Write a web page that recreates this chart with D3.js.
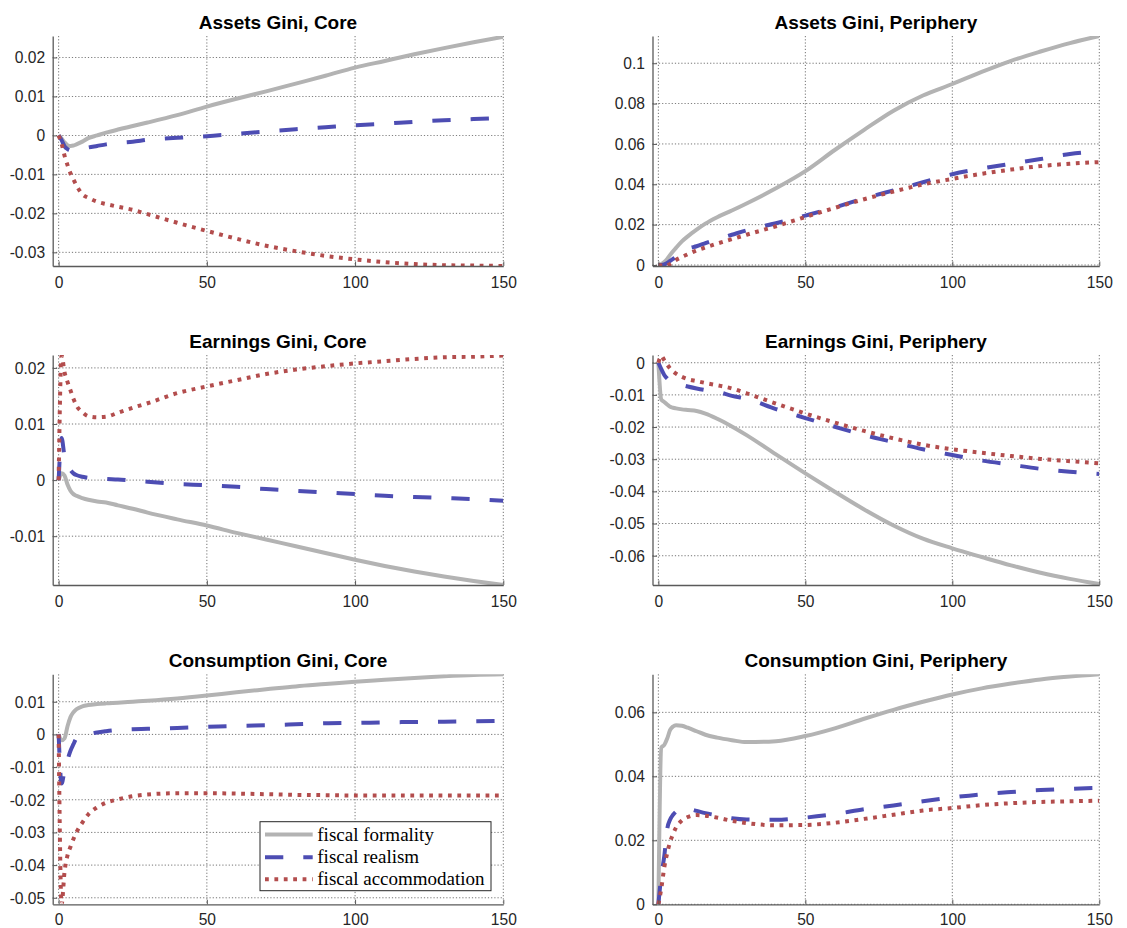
<!DOCTYPE html>
<html>
<head>
<meta charset="utf-8">
<script src="https://cdn.jsdelivr.net/npm/d3@7"></script>
<style>
  body { margin: 0; background: #ffffff; }
  svg { display: block; }
</style>
</head>
<body>
<svg id="chart" width="1127" height="928"></svg>
<script>
// ---------------- DATA ----------------
const periods = [0, 1, 2, 3, 4, 5, 6, 8, 10, 13, 16, 20, 25, 30, 40, 50, 60, 70, 80, 90, 100, 110, 120, 130, 140, 150];

const seriesNames = ["fiscal formality", "fiscal realism", "fiscal accommodation"];

const panelTitles = [
  "Assets Gini, Core", "Assets Gini, Periphery",
  "Earnings Gini, Core", "Earnings Gini, Periphery",
  "Consumption Gini, Core", "Consumption Gini, Periphery"
];

const xTickValues = [0, 50, 100, 150];
const xLimits = [-2, 150];

const yTicksAssetsCore = [-0.03, -0.02, -0.01, 0, 0.01, 0.02];
const yTicksAssetsPeri = [0, 0.02, 0.04, 0.06, 0.08, 0.1];
const yTicksEarningsCore = [-0.01, 0, 0.01, 0.02];
const yTicksEarningsPeri = [-0.06, -0.05, -0.04, -0.03, -0.02, -0.01, 0];
const yTicksConsCore = [-0.05, -0.04, -0.03, -0.02, -0.01, 0, 0.01];
const yTicksConsPeri = [0, 0.02, 0.04, 0.06];

const yLimitsAssetsCore = [-0.0335, 0.0255];
const yLimitsAssetsPeri = [-0.0005, 0.1135];
const yLimitsEarningsCore = [-0.0187, 0.0223];
const yLimitsEarningsPeri = [-0.0691, 0.0024];
const yLimitsConsCore = [-0.052, 0.0184];
const yLimitsConsPeri = [0, 0.0719];

// Assets Gini, Core
const assetsCoreFormality = [0, -0.0008, -0.0018, -0.0025, -0.0027, -0.0026, -0.0023, -0.0016, -0.0007, 0, 0.0007, 0.0015, 0.0024, 0.0033, 0.0052, 0.0074, 0.0094, 0.0113, 0.0133, 0.0153, 0.0174, 0.0191, 0.0208, 0.0224, 0.0239, 0.0253];
const assetsCoreRealism = [0, -0.0012, -0.0028, -0.0035, -0.0038, -0.0038, -0.0037, -0.0034, -0.0031, -0.0027, -0.0023, -0.0019, -0.0016, -0.0011, -0.0006, -0.0002, 0.0004, 0.001, 0.0016, 0.0021, 0.0026, 0.003, 0.0035, 0.0039, 0.0042, 0.0045];
const assetsCoreAccommodation = [0, -0.0021, -0.0052, -0.0076, -0.0097, -0.0113, -0.0128, -0.0151, -0.016, -0.017, -0.0176, -0.0183, -0.0191, -0.0202, -0.0224, -0.0245, -0.0265, -0.0283, -0.0297, -0.0309, -0.0318, -0.0325, -0.033, -0.0333, -0.0334, -0.0335];

// Assets Gini, Periphery
const assetsPeriFormality = [0, 0.0005, 0.0015, 0.003, 0.005, 0.0068, 0.0085, 0.0117, 0.0142, 0.0175, 0.0205, 0.0237, 0.027, 0.0305, 0.038, 0.0465, 0.057, 0.067, 0.0765, 0.084, 0.0897, 0.0957, 0.1012, 0.1058, 0.11, 0.1135];
const assetsPeriRealism = [0, 0, 0.0003, 0.001, 0.002, 0.003, 0.004, 0.0063, 0.008, 0.0093, 0.0108, 0.0128, 0.015, 0.0172, 0.0207, 0.0245, 0.0285, 0.033, 0.037, 0.041, 0.045, 0.0478, 0.0502, 0.0525, 0.055, 0.0563];
const assetsPeriAccommodation = [0, -0.0003, -0.0005, -0.0003, 0.0005, 0.0015, 0.0025, 0.004, 0.0053, 0.0072, 0.0087, 0.0106, 0.0128, 0.015, 0.0192, 0.0238, 0.0283, 0.0326, 0.0364, 0.0399, 0.0427, 0.0452, 0.0473, 0.049, 0.0502, 0.051];

// Earnings Gini, Core
const earningsCoreFormality = [0, 0.0012, 0.0008, -0.0008, -0.0019, -0.0025, -0.0028, -0.0032, -0.0035, -0.0038, -0.004, -0.0045, -0.0051, -0.0058, -0.007, -0.0081, -0.0094, -0.0106, -0.0118, -0.013, -0.0142, -0.0153, -0.0163, -0.0172, -0.018, -0.0187];
const earningsCoreRealism = [0, 0.0075, 0.0042, 0.0028, 0.0018, 0.0012, 0.0009, 0.0006, 0.0004, 0.0003, 0.0002, 0.0001, -0.0001, -0.0003, -0.0007, -0.0009, -0.0012, -0.0016, -0.0019, -0.0022, -0.0025, -0.0028, -0.003, -0.0032, -0.0034, -0.0037];
const earningsCoreAccommodation = [0, 0.0222, 0.0192, 0.0175, 0.016, 0.0145, 0.0133, 0.0121, 0.0114, 0.0112, 0.0113, 0.012, 0.0129, 0.0137, 0.0155, 0.0167, 0.0178, 0.0189, 0.0197, 0.0203, 0.0208, 0.0212, 0.0216, 0.0219, 0.022, 0.0222];

// Earnings Gini, Periphery
const earningsPeriFormality = [0, -0.0115, -0.0122, -0.013, -0.0137, -0.014, -0.0142, -0.0145, -0.0147, -0.015, -0.0158, -0.0174, -0.0198, -0.0225, -0.0285, -0.0344, -0.0401, -0.0456, -0.0506, -0.0547, -0.0577, -0.0604, -0.063, -0.0653, -0.0672, -0.0688];
const earningsPeriRealism = [0, -0.002, -0.0038, -0.0049, -0.0056, -0.006, -0.0063, -0.0069, -0.0074, -0.008, -0.0085, -0.009, -0.0103, -0.0112, -0.0144, -0.0172, -0.0199, -0.0225, -0.0247, -0.0269, -0.0287, -0.0304, -0.0317, -0.033, -0.0339, -0.0346];
const earningsPeriAccommodation = [0, 0.0021, 0.0008, -0.0006, -0.0018, -0.0027, -0.0034, -0.0044, -0.0051, -0.0057, -0.0063, -0.007, -0.008, -0.0095, -0.0127, -0.0158, -0.0186, -0.0212, -0.0235, -0.0255, -0.0269, -0.028, -0.029, -0.0299, -0.0306, -0.0313];

// Consumption Gini, Core
const consCoreFormality = [0, -0.0018, -0.0012, 0.0025, 0.0053, 0.0068, 0.0077, 0.0086, 0.009, 0.0093, 0.0095, 0.0097, 0.01, 0.0103, 0.011, 0.0119, 0.0129, 0.0138, 0.0147, 0.0154, 0.0161, 0.0167, 0.0173, 0.0178, 0.0182, 0.0184];
const consCoreRealism = [0, -0.015, -0.011, -0.0078, -0.005, -0.003, -0.0012, -0.0005, 0, 0.0006, 0.001, 0.0014, 0.0016, 0.0017, 0.002, 0.0023, 0.0026, 0.0028, 0.0031, 0.0034, 0.0035, 0.0037, 0.0038, 0.0039, 0.004, 0.0042];
const consCoreAccommodation = [0, -0.052, -0.042, -0.037, -0.0344, -0.032, -0.03, -0.027, -0.0245, -0.0223, -0.0209, -0.0199, -0.0189, -0.0184, -0.018, -0.018, -0.0181, -0.0183, -0.0185, -0.0186, -0.0187, -0.0187, -0.0187, -0.0187, -0.0187, -0.0187];

// Consumption Gini, Periphery
const consPeriFormality = [0, 0.049, 0.0498, 0.0518, 0.0545, 0.0556, 0.056, 0.0558, 0.0552, 0.0541, 0.053, 0.0521, 0.0513, 0.0507, 0.051, 0.0526, 0.055, 0.058, 0.0608, 0.0633, 0.0656, 0.0675, 0.069, 0.0703, 0.0712, 0.0719];
const consPeriRealism = [0, 0.009, 0.015, 0.0235, 0.0265, 0.028, 0.029, 0.0301, 0.0299, 0.0292, 0.0285, 0.0278, 0.0269, 0.0265, 0.0264, 0.0271, 0.0282, 0.0297, 0.0309, 0.0322, 0.0334, 0.0344, 0.0351, 0.0357, 0.0361, 0.0364];
const consPeriAccommodation = [0, 0.005, 0.0115, 0.016, 0.0195, 0.022, 0.024, 0.0262, 0.0273, 0.0279, 0.0277, 0.0271, 0.0261, 0.0254, 0.0247, 0.0248, 0.0255, 0.0267, 0.028, 0.0293, 0.0301, 0.031, 0.0316, 0.032, 0.0322, 0.0324];

// ---------------- BUILD ----------------
const panels = [
  { title: panelTitles[0], yLim: yLimitsAssetsCore, yTicks: yTicksAssetsCore, series: [assetsCoreFormality, assetsCoreRealism, assetsCoreAccommodation] },
  { title: panelTitles[1], yLim: yLimitsAssetsPeri, yTicks: yTicksAssetsPeri, series: [assetsPeriFormality, assetsPeriRealism, assetsPeriAccommodation] },
  { title: panelTitles[2], yLim: yLimitsEarningsCore, yTicks: yTicksEarningsCore, series: [earningsCoreFormality, earningsCoreRealism, earningsCoreAccommodation] },
  { title: panelTitles[3], yLim: yLimitsEarningsPeri, yTicks: yTicksEarningsPeri, series: [earningsPeriFormality, earningsPeriRealism, earningsPeriAccommodation] },
  { title: panelTitles[4], yLim: yLimitsConsCore, yTicks: yTicksConsCore, series: [consCoreFormality, consCoreRealism, consCoreAccommodation], legend: true },
  { title: panelTitles[5], yLim: yLimitsConsPeri, yTicks: yTicksConsPeri, series: [consPeriFormality, consPeriRealism, consPeriAccommodation] }
];

const seriesStyles = [
  { color: "#b3b3b3", dash: null },
  { color: "#4d4db3", dash: "18.3,20" },
  { color: "#b34d4d", dash: "3.8,5.6" }
];

const colX = [[52.7, 503.3], [652.5, 1099.3]];
const rowY = [[36, 266], [355, 585], [674.3, 904.3]];
const xLabelPad = [11.3, 11.3, 9.2];

const svg = d3.select("#chart");
svg.append("rect").attr("width", 1127).attr("height", 928).attr("fill", "#ffffff");

const fmt = v => String(+v.toFixed(4));
const sansFont = "'Liberation Sans', Arial, Helvetica, sans-serif";
const serifFont = "'Liberation Serif', 'Times New Roman', serif";
const axisColor = "#5a5a5a";

panels.forEach((p, i) => {
  const col = i % 2, row = Math.floor(i / 2);
  const [x0, x1] = colX[col];
  const [y0, y1] = rowY[row];
  const w = x1 - x0, h = y1 - y0;

  const x = d3.scaleLinear().domain(xLimits).range([0, w]);
  const y = d3.scaleLinear().domain(p.yLim).range([h, 0]);

  const g = svg.append("g").attr("transform", `translate(${x0},${y0})`);

  const clipId = "clip" + i;
  g.append("clipPath").attr("id", clipId)
    .append("rect").attr("x", 0).attr("y", 0).attr("width", w).attr("height", h);

  // grid
  const grid = g.append("g").attr("class", "grid");
  grid.selectAll("line.h").data(p.yTicks).enter().append("line")
    .attr("x1", 0).attr("x2", w)
    .attr("y1", d => y(d)).attr("y2", d => y(d))
    .attr("stroke", "#333").attr("stroke-width", 0.8)
    .attr("stroke-dasharray", "1.2,2").attr("opacity", 0.85);
  grid.selectAll("line.v").data(xTickValues).enter().append("line")
    .attr("y1", 0).attr("y2", h)
    .attr("x1", d => x(d)).attr("x2", d => x(d))
    .attr("stroke", "#333").attr("stroke-width", 0.8)
    .attr("stroke-dasharray", "1.2,2").attr("opacity", 0.85);

  // lines
  const line = d3.line()
    .x((d, k) => x(periods[k]))
    .y(d => y(d))
    .curve(d3.curveMonotoneX);

  const lg = g.append("g").attr("clip-path", `url(#${clipId})`);
  p.series.forEach((s, k) => {
    const st = seriesStyles[k];
    const path = lg.append("path")
      .datum(s)
      .attr("d", line)
      .attr("fill", "none")
      .attr("stroke", st.color)
      .attr("stroke-width", 4)
      .attr("stroke-linejoin", "round");
    if (st.dash) path.attr("stroke-dasharray", st.dash).attr("stroke-linecap", "butt");
  });

  // axes
  const yAxis = d3.axisLeft(y).tickValues(p.yTicks).tickFormat(fmt)
    .tickSizeInner(-4.5).tickSizeOuter(0).tickPadding(7.5);
  const xAxis = d3.axisBottom(x).tickValues(xTickValues).tickFormat(fmt)
    .tickSizeInner(-4.5).tickSizeOuter(0).tickPadding(xLabelPad[row]);

  const ya = g.append("g").call(yAxis);
  const xa = g.append("g").attr("transform", `translate(0,${h})`).call(xAxis);
  [ya, xa].forEach(a => {
    a.select(".domain").attr("stroke", axisColor).attr("stroke-width", 1.3);
    a.selectAll(".tick line").attr("stroke", axisColor).attr("stroke-width", 1);
    a.selectAll(".tick text").attr("fill", "#262626")
      .style("font-family", sansFont).style("font-size", "15.6px");
  });
  ya.selectAll(".tick text").attr("dy", "0.34em");

  // title
  g.append("text")
    .attr("x", w / 2).attr("y", -7)
    .attr("text-anchor", "middle")
    .style("font-family", sansFont).style("font-size", "19px").style("font-weight", "bold")
    .attr("fill", "#000")
    .text(p.title);

  // legend
  if (p.legend) {
    const lw = 231, lh = 69;
    const lx = w - 12.3 - lw, ly = h - 13.6 - lh;
    const leg = g.append("g").attr("transform", `translate(${lx},${ly})`);
    leg.append("rect").attr("width", lw).attr("height", lh)
      .attr("fill", "#ffffff").attr("stroke", "#262626").attr("stroke-width", 1);
    const rowsY = [12.8, 35.6, 57.6];
    seriesNames.forEach((name, k) => {
      const st = seriesStyles[k];
      const ln = leg.append("line")
        .attr("x1", 5).attr("x2", 52.7)
        .attr("y1", rowsY[k]).attr("y2", rowsY[k])
        .attr("stroke", st.color).attr("stroke-width", 4);
      if (st.dash) ln.attr("stroke-dasharray", st.dash);
      leg.append("text")
        .attr("x", 57.3).attr("y", rowsY[k])
        .attr("dy", "0.32em")
        .style("font-family", serifFont).style("font-size", "19px")
        .attr("fill", "#000")
        .text(name);
    });
  }
});
</script>
</body>
</html>
